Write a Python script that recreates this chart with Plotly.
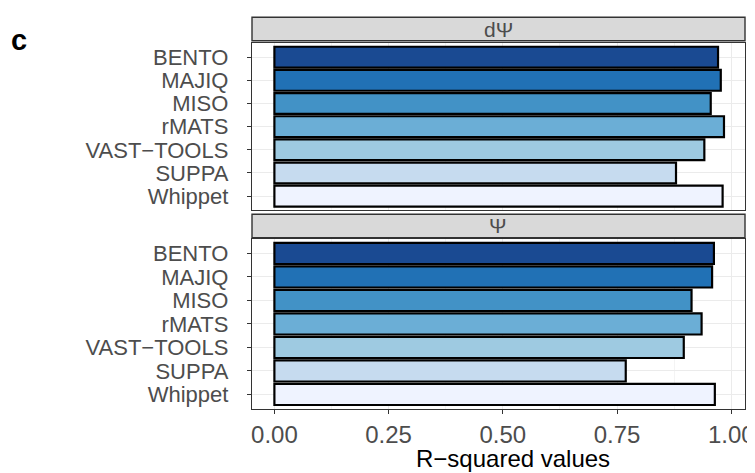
import plotly.graph_objects as go
from plotly.subplots import make_subplots

methods = ["BENTO", "MAJIQ", "MISO", "rMATS", "VAST\u2212TOOLS", "SUPPA", "Whippet"]
colors = ["#1A4A92", "#2171B5", "#4292C6", "#6BAED6", "#9ECAE1", "#C6DBEF", "#EFF3FF"]
dpsi_values = [0.971, 0.977, 0.955, 0.984, 0.941, 0.879, 0.981]
psi_values = [0.962, 0.958, 0.913, 0.935, 0.896, 0.769, 0.964]
panel_labels = ["d\u03a8", "\u03a8"]
x_ticks = [0.0, 0.25, 0.5, 0.75, 1.0]
x_ticklabels = ["0.00", "0.25", "0.50", "0.75", "1.00"]

OFF = 8  # default page body margin
W, H = 755 - OFF, 473 - OFF
FONT = "Liberation Sans, Arial, Helvetica, sans-serif"

def px(x):
    return (x - OFF) / W

def py(y):
    return 1 - (y - OFF) / H

fig = make_subplots(rows=2, cols=1, shared_xaxes=True, vertical_spacing=0.05)

for r, vals in enumerate([dpsi_values, psi_values], start=1):
    fig.add_trace(go.Bar(
        x=vals, y=methods, orientation="h",
        marker=dict(color=colors, line=dict(color="black", width=2.2)),
        width=0.9, showlegend=False, hoverinfo="x+y"), row=r, col=1)

xdom = [px(252), px(745)]
panels = [(43.3, 210.0), (239.3, 408.5)]
strips = [(17.3, 40.7), (214.3, 237.7)]

common_x = dict(range=[-0.049, 1.03], tickmode="array", tickvals=x_ticks, ticktext=x_ticklabels,
                showgrid=True, gridcolor="#EBEBEB", gridwidth=1.1,
                minor=dict(tick0=0.125, dtick=0.25, showgrid=True, gridcolor="#F4F4F4", gridwidth=0.6, ticklen=0),
                zeroline=False, showline=True, mirror=True, linecolor="#333333", linewidth=1.4,
                domain=xdom, automargin=False)
common_y = dict(categoryorder="array", categoryarray=methods[::-1], range=[-0.6, 6.6],
                tickmode="array", tickvals=methods, ticktext=methods,
                showgrid=True, gridcolor="#EBEBEB", gridwidth=1.1, zeroline=False,
                showline=True, mirror=True, linecolor="#333333", linewidth=1.4,
                ticks="outside", ticklen=4, tickcolor="#333333", tickwidth=1.2,
                ticklabelstandoff=14, automargin=False,
                tickfont=dict(family=FONT, size=22, color="#4D4D4D"))

fig.update_xaxes(**common_x, row=1, col=1, showticklabels=False, ticks="")
fig.update_xaxes(**common_x, row=2, col=1, ticks="outside", ticklen=4, tickcolor="#333333", tickwidth=1.2,
                 tickfont=dict(family=FONT, size=24, color="#4D4D4D"))
fig.update_yaxes(**common_y, row=1, col=1, domain=[py(panels[0][1]), py(panels[0][0])])
fig.update_yaxes(**common_y, row=2, col=1, domain=[py(panels[1][1]), py(panels[1][0])])

shapes = []
annotations = []
for (top, bot), lab in zip(strips, panel_labels):
    shapes.append(dict(type="rect", xref="paper", yref="paper", x0=xdom[0], x1=xdom[1],
                       y0=py(bot), y1=py(top), fillcolor="#D9D9D9",
                       line=dict(color="#333333", width=1.4), layer="above"))
    annotations.append(dict(text=lab, xref="paper", yref="paper", x=(xdom[0] + xdom[1]) / 2,
                            y=py((top + bot) / 2), xanchor="center", yanchor="middle", showarrow=False,
                            font=dict(family=FONT, size=21, color="#4D4D4D")))

annotations.append(dict(text="<b>c</b>", xref="paper", yref="paper", x=px(18.5), y=py(40),
                        xanchor="center", yanchor="middle", showarrow=False,
                        font=dict(family=FONT, size=29, color="black")))
annotations.append(dict(text="R\u2212squared values", xref="paper", yref="paper", x=px(513), y=py(458),
                        xanchor="center", yanchor="middle", showarrow=False,
                        font=dict(family=FONT, size=24, color="black")))

fig.update_layout(width=W, height=H, margin=dict(l=0, r=0, t=0, b=0, autoexpand=False),
                  paper_bgcolor="white", plot_bgcolor="white", bargap=0.1,
                  shapes=shapes, annotations=annotations, font=dict(family=FONT))

fig.write_html("out.html")
